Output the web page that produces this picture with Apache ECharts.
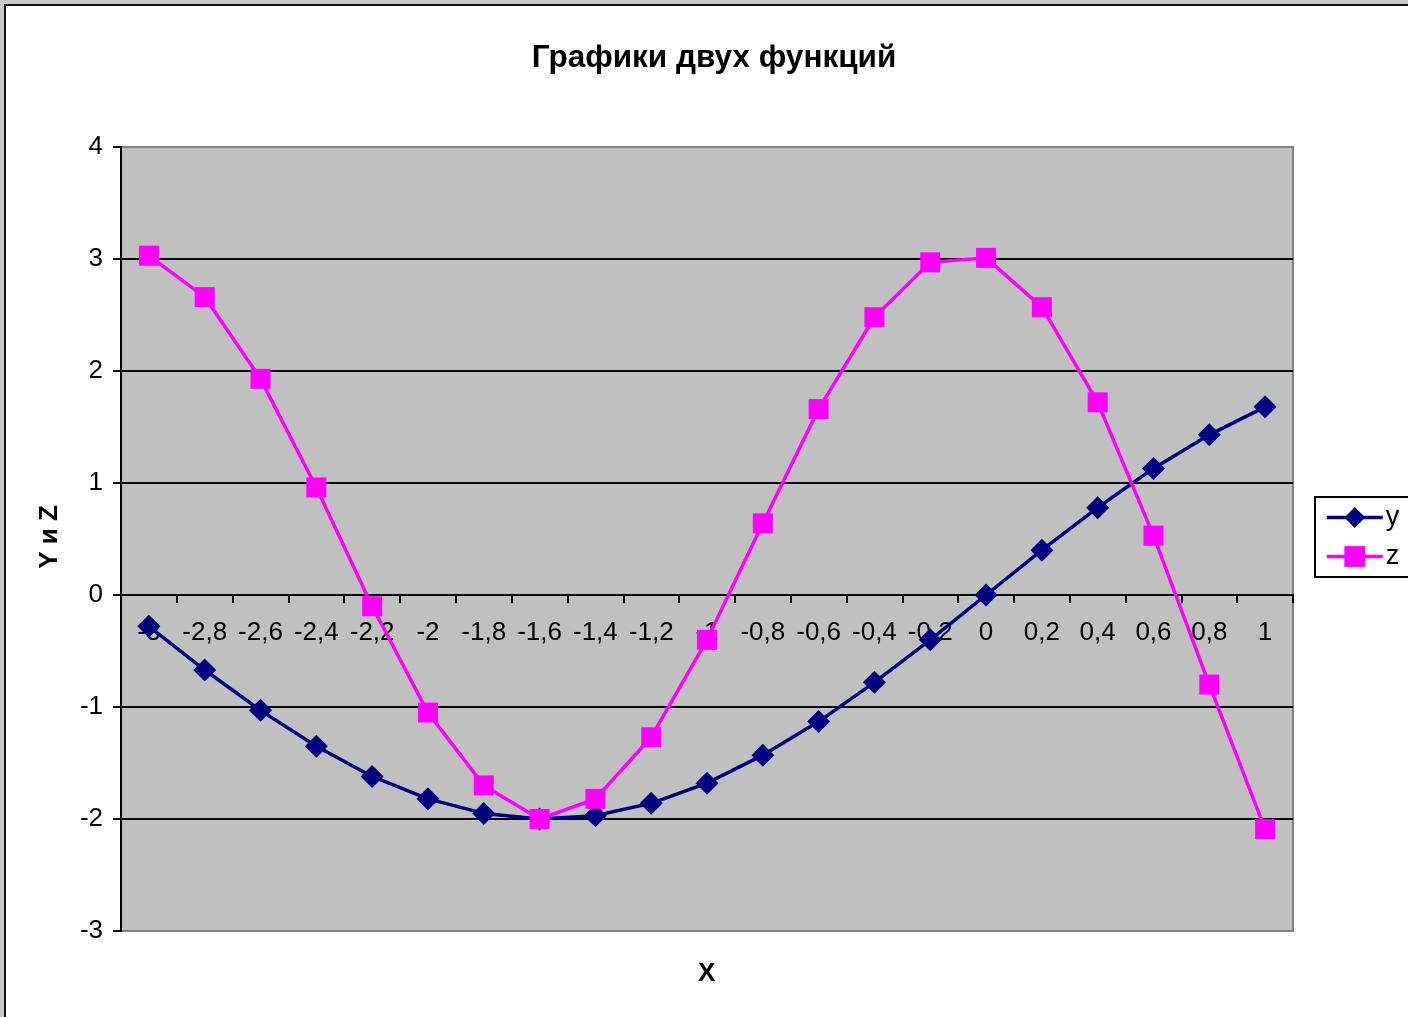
<!DOCTYPE html>
<html>
<head>
<meta charset="utf-8">
<script src="https://cdn.jsdelivr.net/npm/echarts@6/dist/echarts.min.js"></script>
<style>
html,body{margin:0;padding:0;width:1408px;height:1017px;overflow:hidden;background:#c8c8c8;}
#frame{position:absolute;left:4px;top:4px;width:1420px;height:1030px;background:#fff;border-left:2px solid #111;border-top:2px solid #111;}
#chart{position:absolute;left:0;top:0;width:1408px;height:1017px;}
</style>
</head>
<body>
<div id="frame"></div>
<div id="chart"></div>
<script>
const categories = ['-3','-2,8','-2,6','-2,4','-2,2','-2','-1,8','-1,6','-1,4','-1,2','-1','-0,8','-0,6','-0,4','-0,2','0','0,2','0,4','0,6','0,8','1'];
const yValues = [-0.28,-0.67,-1.03,-1.35,-1.62,-1.82,-1.95,-2.00,-1.97,-1.86,-1.68,-1.43,-1.13,-0.78,-0.40,0,0.40,0.78,1.13,1.43,1.68];
const zValues = [3.03,2.66,1.93,0.96,-0.10,-1.05,-1.70,-2.00,-1.82,-1.27,-0.40,0.64,1.66,2.48,2.97,3.01,2.57,1.72,0.53,-0.80,-2.09];
const yTicks = {min:-3, max:4, interval:1};

const gridTop = 147, gridHeight = 784;
// offset that places the x axis at value 0 (axis is drawn at the grid bottom otherwise)
const zeroOffset = -gridHeight * (0 - yTicks.min) / (yTicks.max - yTicks.min);

const chart = echarts.init(document.getElementById('chart'), null, {renderer:'canvas'});
const font = '"Liberation Sans", Arial, sans-serif';
chart.setOption({
  backgroundColor: 'transparent',
  animation: false,
  title: {
    text: 'Графики двух функций',
    left: 709, top: 37, textAlign: 'center',
    textStyle: {fontFamily: font, fontSize: 31.5, fontWeight: 'bold', color: '#000'}
  },
  legend: {
    left: 1315, top: 497, orient: 'vertical',
    backgroundColor: '#fff', borderColor: '#000', borderWidth: 2, borderRadius: 0,
    padding: [7, 30, 7, 10], itemGap: 12, itemWidth: 56, itemHeight: 26,
    lineStyle: {width: 3.5},
    textStyle: {fontFamily: font, fontSize: 27, color: '#000', padding: [0,0,0,-2]},
    data: ['y','z']
  },
  grid: {left: 121, top: gridTop, width: 1172, height: gridHeight, show: true, backgroundColor: '#c0c0c0', borderColor: '#808080', borderWidth: 2},
  xAxis: {
    type: 'category', data: categories, boundaryGap: true, position: 'bottom', offset: zeroOffset,
    axisLine: {onZero: false, lineStyle: {color: '#000', width: 2}},
    axisTick: {show: true, inside: false, length: 8, alignWithLabel: false, lineStyle: {color: '#000', width: 2}},
    axisLabel: {margin: 25, fontFamily: font, fontSize: 26, color: '#000', interval: 0},
    splitLine: {show: false}
  },
  yAxis: {
    type: 'value', min: yTicks.min, max: yTicks.max, interval: yTicks.interval,
    axisLine: {show: true, lineStyle: {color: '#000', width: 2}},
    axisTick: {show: true, length: 8, lineStyle: {color: '#000', width: 2}},
    axisLabel: {margin: 18, fontFamily: font, fontSize: 26, color: '#000'},
    splitLine: {show: true, lineStyle: {color: ['#808080','#000','#000','#000','#000','#000','#000','#808080'], width: 2}}
  },
  graphic: [
    {type: 'text', left: 698, top: 961, style: {text: 'X', font: 'bold 26px ' + font, fill: '#000'}},
    {type: 'text', x: 50, y: 537, rotation: Math.PI/2, style: {text: 'Y и Z', font: 'bold 26px ' + font, fill: '#000', textAlign: 'center', textVerticalAlign: 'middle'}}
  ],
  series: [
    {name: 'y', type: 'line', data: yValues, symbol: 'diamond', symbolSize: [23, 23],
     lineStyle: {color: '#000080', width: 3.5}, itemStyle: {color: '#000080'}, z: 3},
    {name: 'z', type: 'line', data: zValues, symbol: 'rect', symbolSize: 20,
     lineStyle: {color: '#ff00ff', width: 3.5}, itemStyle: {color: '#ff00ff'}, z: 4}
  ]
});
</script>
</body>
</html>
